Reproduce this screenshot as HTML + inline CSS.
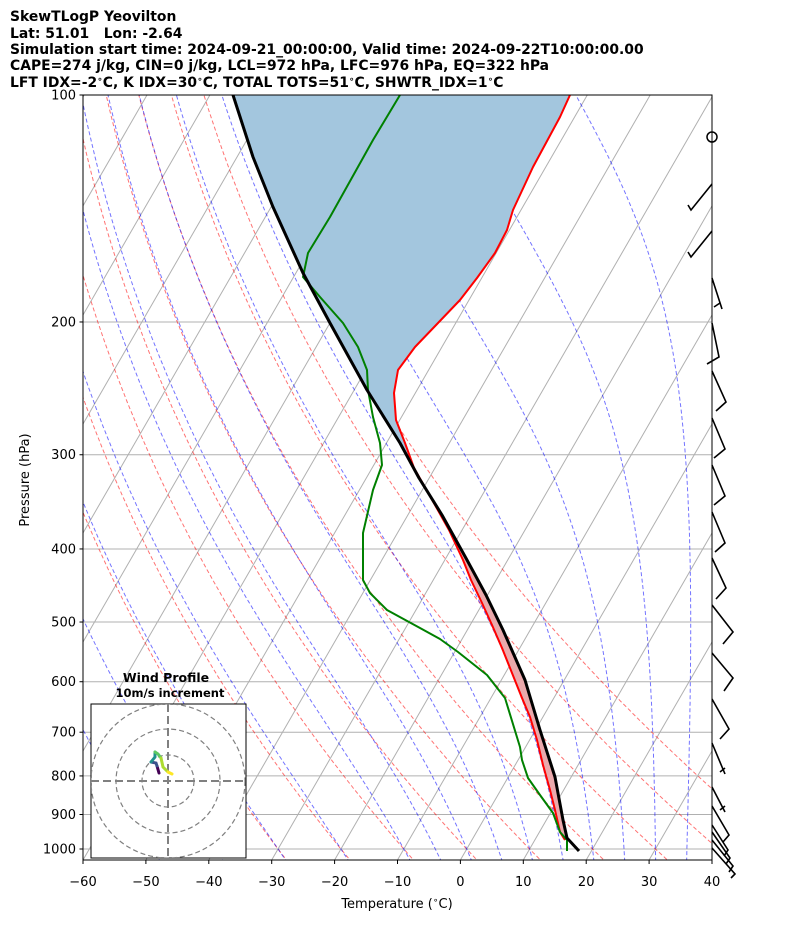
<!DOCTYPE html>
<html><head><meta charset="utf-8"><style>
body{margin:0;background:#fff;}
svg{display:block;font-family:"DejaVu Sans","Liberation Sans",sans-serif;}
</style></head><body>
<svg id="s" width="794" height="937" xmlns="http://www.w3.org/2000/svg">
<defs><clipPath id="c"><rect x="83" y="95" width="629" height="765"/></clipPath>
<clipPath id="h"><rect x="91" y="704" width="155" height="154"/></clipPath></defs>
<g font-weight="bold" font-size="13.9" fill="#000">
<text x="10" y="21">SkewTLogP Yeovilton</text>
<text x="10" y="38">Lat: 51.01&#160;&#160;&#160;Lon: -2.64</text>
<text x="10" y="54">Simulation start time: 2024-09-21_00:00:00, Valid time: 2024-09-22T10:00:00.00</text>
<text x="10" y="70">CAPE=274 j/kg, CIN=0 j/kg, LCL=972 hPa, LFC=976 hPa, EQ=322 hPa</text>
<text x="10" y="87">LFT IDX=-2<tspan font-size="9" dy="-5">∘</tspan><tspan dy="5">C, K IDX=30</tspan><tspan font-size="9" dy="-5">∘</tspan><tspan dy="5">C, TOTAL TOTS=51</tspan><tspan font-size="9" dy="-5">∘</tspan><tspan dy="5">C, SHWTR_IDX=1</tspan><tspan font-size="9" dy="-5">∘</tspan><tspan dy="5">C</tspan></text>
</g>
<g id="plot" clip-path="url(#c)"></g>
<g id="fg"></g>
<rect x="83" y="95" width="629" height="765" fill="none" stroke="#000" stroke-width="1"/>
<g id="ax" font-size="13"></g>
<text x="397" y="908" font-size="13" text-anchor="middle">Temperature (<tspan font-size="9" dy="-5">∘</tspan><tspan dy="5">C)</tspan></text>
<text transform="translate(29,480) rotate(-90)" font-size="13" text-anchor="middle">Pressure (hPa)</text>
<g id="hodo">
<rect x="91" y="704" width="155" height="154" fill="#fff" stroke="#000"/>
<g clip-path="url(#h)" fill="none" stroke="#808080" stroke-width="1.2" stroke-dasharray="5,3">
<circle cx="168" cy="781" r="26"/><circle cx="168" cy="781" r="52"/><circle cx="168" cy="781" r="77"/>
<line x1="91" y1="781" x2="246" y2="781" stroke-width="2" stroke-dasharray="8,4"/>
<line x1="168" y1="704" x2="168" y2="858" stroke-width="2" stroke-dasharray="8,4"/>
</g>
<g fill="none" stroke-width="3" stroke-linecap="round">
<polyline points="159,773 157,766" stroke="#440154"/>
<polyline points="157,766 156,763 151,762" stroke="#3b528b"/>
<polyline points="151,762 155,757 155,752" stroke="#21918c"/>
<polyline points="155,752 158,754 161,758" stroke="#5ec962"/>
<polyline points="161,758 163,767 168,772" stroke="#addc30"/>
<polyline points="168,772 172,774" stroke="#fde725"/>
</g>
<text x="166" y="682" font-size="12.5" font-weight="bold" text-anchor="middle">Wind Profile</text>
<text x="170" y="697" font-size="11.5" font-weight="bold" text-anchor="middle">10m/s increment</text>
</g>
</svg>
<script>
const NS="http://www.w3.org/2000/svg";
const plot=document.getElementById('plot'),fg=document.getElementById('fg'),ax=document.getElementById('ax');
function el(p,t,a){const e=document.createElementNS(NS,t);for(const k in a)e.setAttribute(k,a[k]);p.appendChild(e);return e;}
const Y=p=>95+754*Math.log10(p/100);
const X=(T,y)=>83+(T+60)*6.29+(860-y)*0.577;
[100,200,300,400,500,600,700,800,900,1000].forEach(p=>{const y=Y(p);
el(plot,'line',{x1:83,x2:712,y1:y,y2:y,stroke:'#b0b0b0','stroke-width':1});
el(ax,'line',{x1:79.5,x2:83,y1:y,y2:y,stroke:'#000'});
const t=el(ax,'text',{x:76,y:y+4.5,'text-anchor':'end'});t.textContent=p;});
for(let T=-60;T<=40;T+=10){const x=X(T,860);el(ax,'line',{x1:x,x2:x,y1:860,y2:864,stroke:'#000'});
const t=el(ax,'text',{x:x,y:886,'text-anchor':'middle'});t.textContent=(T<0?'−':'')+Math.abs(T);}
for(let T=-200;T<=60;T+=10){el(plot,'line',{x1:X(T,860),y1:860,x2:X(T,95),y2:95,stroke:'#b0b0b0','stroke-width':1});}
const ps=[];for(let p=1060;p>=99;p-=5)ps.push(p);
function path(pts,attrs,par){let d=pts.map((q,i)=>(i?'L':'M')+q[0].toFixed(1)+','+q[1].toFixed(1)).join('');attrs.d=d;attrs.fill=attrs.fill||'none';return el(par||plot,'path',attrs);}
for(let t0=-30;t0<=50;t0+=10){const pts=ps.map(p=>{const T=(t0+273.15)*Math.pow(p/1000,0.2857)-273.15;const y=Y(p);return[X(T,y),y];});
path(pts,{stroke:'rgba(255,0,0,0.55)','stroke-width':1,'stroke-dasharray':'4,2.5'});}
function es(T){return 6.112*Math.exp(17.67*T/(T+243.5));}
function dTdp(p,Tk){const T=Tk-273.15;const e=es(T);const rs=0.622*e/(p-e);const Rd=287.04,Cp=1005.7,Lv=2.501e6;
return (Rd*Tk+Lv*rs)/(Cp+Lv*Lv*rs*0.622/(Rd*Tk*Tk))/p;}
const mts=[-50,-40,-30,-20];for(let t=-10;t<=45;t+=5)mts.push(t);
mts.forEach(t0=>{const pts=[];let Tk=t0+273.15,p=1000;
let T2=Tk;for(let q=1000;q<1060;q+=1){T2+=dTdp(q,T2)*1;}
let Td=T2;const lo=[];
for(let q=1060;q>1000;q-=1){lo.push([q,Td]);Td-=dTdp(q,Td)*1;}
lo.forEach(a=>{const y=Y(a[0]);pts.push([X(a[1]-273.15,y),y]);});
while(p>=99){const y=Y(p);pts.push([X(Tk-273.15,y),y]);for(let i=0;i<5;i++){Tk-=dTdp(p,Tk)*1;p-=1;}}
path(pts,{stroke:'rgba(0,0,255,0.55)','stroke-width':1,'stroke-dasharray':'4,2.5'});});
const red=[[570,95],[560,117],[533,167],[513,210],[507,230],[495,253],[477,278],[460,300],[438,323],[415,347],[398,370],[394,393],[396,420],[405,443],[414,468],[422,482],[435,505],[449,530],[463,560],[471,580],[482,603],[492,625],[502,648],[512,673],[522,698],[530,717],[537,740],[543,765],[550,790],[555,810],[560,832],[565,840]];
const blk=[[233,95],[253,157],[273,207],[303,273],[330,323],[367,390],[400,443],[419,478],[442,515],[467,560],[486,595],[503,630],[525,680],[540,730],[555,777],[563,820],[567,838],[579,851]];
const grn=[[400,95],[373,140],[330,217],[308,253],[303,277],[320,297],[343,323],[358,347],[367,370],[368,390],[373,417],[380,443],[382,465],[373,490],[363,533],[363,580],[370,593],[387,610],[420,628],[440,639],[458,652],[487,675],[505,698],[520,747],[522,760],[528,778],[540,795],[553,813],[560,832],[567,840],[567,851]];
const bl=blk.filter(q=>q[1]<=478),rd=red.filter(q=>q[1]<=468).reverse();
path(bl.concat(rd),{fill:'#a3c6de',stroke:'none'});
const bp=blk.filter(q=>q[1]>=478&&q[1]<=838),rp=red.filter(q=>q[1]>=478).reverse();
path(bp.concat(rp),{fill:'#eaa9ac',stroke:'none'});
path(red,{stroke:'#ff0000','stroke-width':2,'stroke-linejoin':'round'});
path(grn,{stroke:'#008000','stroke-width':2,'stroke-linejoin':'round'});
path(blk,{stroke:'#000','stroke-width':3,'stroke-linejoin':'round'});
el(fg,'circle',{cx:712,cy:137,r:5,fill:'none',stroke:'#000','stroke-width':1.5});
const bs=[[[712,184],[691,210],[688,205]],[[712,231],[691,257],[688,252]],
[[712,278],[722,309],null,[714,307],[720,303]],[[712,323],[719,357],[707,364]],
[[712,371],[726,402],[716,411]],[[712,418],[725,449],[714,458]],[[712,465],[725,496],[714,505]],
[[712,512],[725,543],[715,552]],[[712,558],[726,588],[716,599]],[[712,605],[733,632],[723,644]],
[[712,653],[733,678],[724,691]],[[712,699],[729,729],[720,739]],[[712,743],[725,774],null,[720,772],[725,768]],
[[712,787],[725,812],null,[720,810],[725,806]],[[712,806],[729,835],[723,842]],
[[712,825],[728,850],[724,856]],[[712,832],[730,858],[726,864]],[[712,840],[733,866],[729,872]],[[712,848],[735,874],[731,878]]];
bs.forEach(b=>{const a=b.slice(0,3).filter(Boolean);path(a,{stroke:'#000','stroke-width':1.6},fg);
if(b[3])path([b[3],b[4]],{stroke:'#000','stroke-width':1.6},fg);});
</script>
</body></html>
